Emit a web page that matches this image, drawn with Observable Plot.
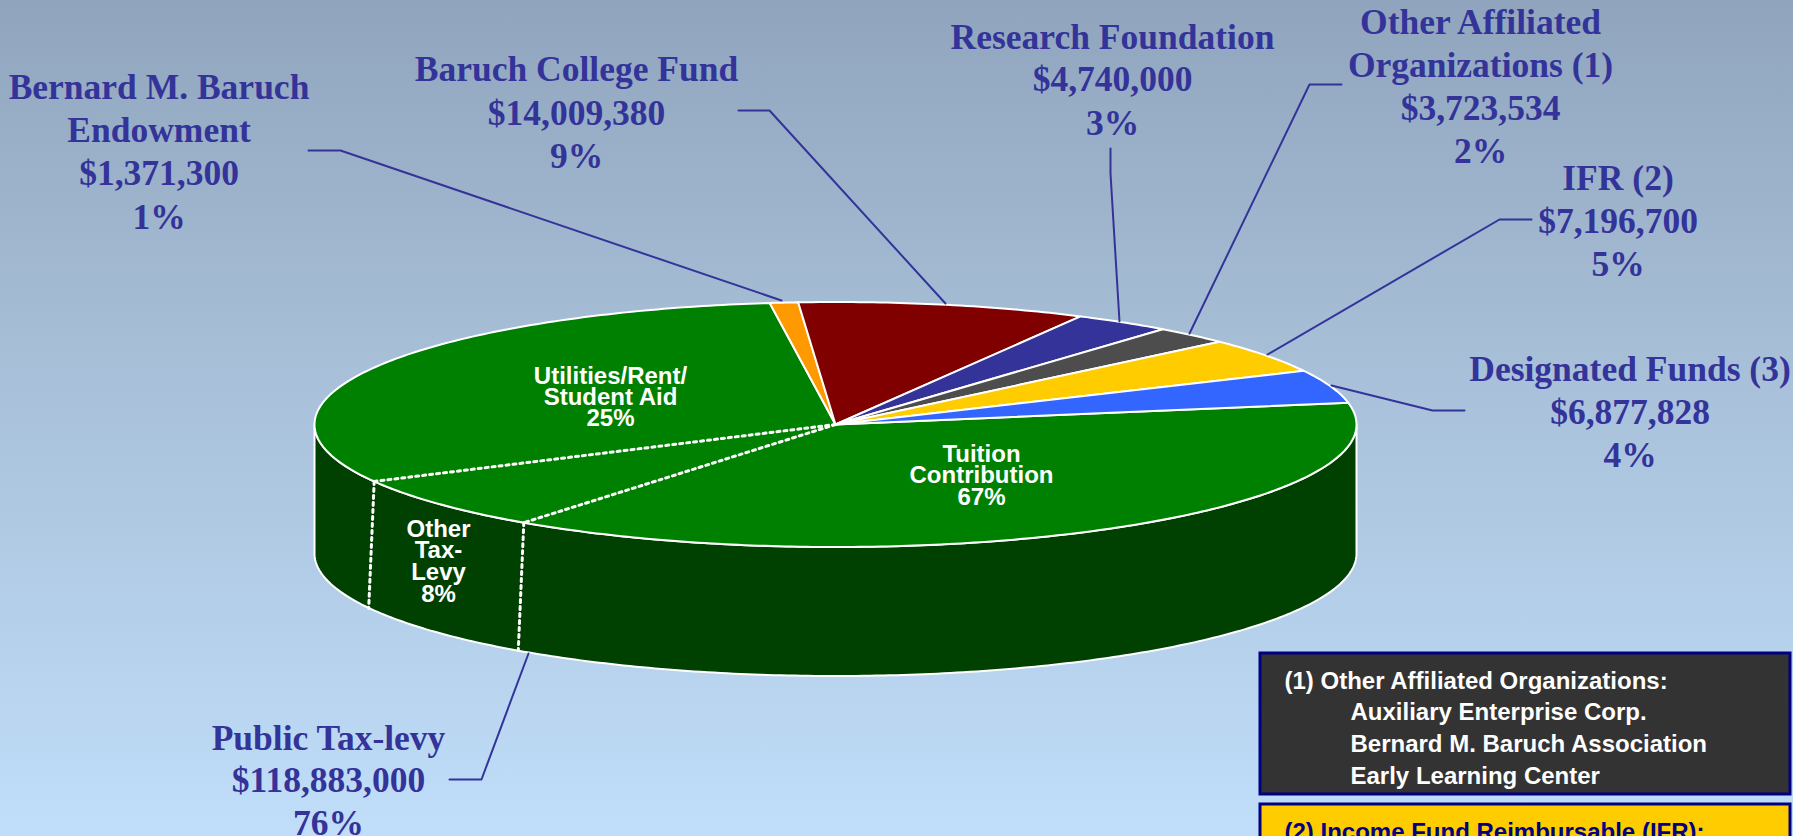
<!DOCTYPE html>
<html>
<head>
<meta charset="utf-8">
<style>html,body{margin:0;padding:0;overflow:hidden;background:#bedcf8}svg{display:block}</style>
<script src="https://cdn.jsdelivr.net/npm/d3@7"></script>
<script src="https://cdn.jsdelivr.net/npm/@observablehq/plot@0.6"></script>
</head>
<body>
<div id="chart"></div>
<script>
// Data, clockwise from the right edge of the pie
const names = [
  ["Public Tax-levy"],
  ["Bernard M. Baruch", "Endowment"],
  ["Baruch College Fund"],
  ["Research Foundation"],
  ["Other Affiliated", "Organizations (1)"],
  ["IFR (2)"],
  ["Designated Funds (3)"]
];
const amounts = [118883000, 1371300, 14009380, 4740000, 3723534, 7196700, 6877828];
const sliceColors = ["#008000", "#FF9900", "#800000", "#333399", "#4D4D4D", "#FFCC00", "#3366FF"];

// The dotted divisions of the tax-levy slice, as shares of the whole drawn pie
const dividerShares = [0.3804, 0.071];
const taxLevyLabels = [
  {lines: ["Tuition", "Contribution", "67%"], x: 981, ys: [454, 475, 497]},
  {lines: ["Other", "Tax-", "Levy", "8%"], x: 438, ys: [529, 550, 572, 594]},
  {lines: ["Utilities/Rent/", "Student Aid", "25%"], x: 610, ys: [376, 397, 418]}
];

// Layout of the callouts, in the order of the data
const labelX = [328, 158.5, 576, 1112, 1480, 1617.5, 1629.5];
const labelY = [
  [738, 780, 823],
  [87, 130.5, 173.5, 217],
  [69, 113, 156],
  [37, 79, 123],
  [22, 65, 108, 151],
  [178, 221, 264],
  [369, 412, 455]
];
const leaders = [
  [[449, 779], [481, 779], [528, 653]],
  [[308, 150], [340, 150], [781, 300]],
  [[738, 110], [769, 110], [945, 303]],
  [[1110, 148], [1110, 173], [1119, 321]],
  [[1341, 84], [1309, 84], [1189, 333]],
  [[1531, 219], [1499, 219], [1267, 354]],
  [[1464, 410], [1432, 410], [1331, 385]]
];

const noteBoxes = [
  {x1: 1260, x2: 1790, y1: 653, y2: 794, fill: "#333333"},
  {x1: 1260, x2: 1790, y1: 804, y2: 860, fill: "#FFCC00"}
];
const noteLines = [
  {text: "(1) Other Affiliated Organizations:", x: 1284, y: 681, fill: "white"},
  {text: "Auxiliary Enterprise Corp.", x: 1350, y: 712, fill: "white"},
  {text: "Bernard M. Baruch Association", x: 1350, y: 744, fill: "white"},
  {text: "Early Learning Center", x: 1350, y: 776, fill: "white"},
  {text: "(2) Income Fund Reimbursable (IFR):", x: 1284, y: 832, fill: "#000080"}
];

// Pie projection
const cx = 835, cy = 424, rx = 521, ry = 122.5, depth = 129;
const deg = Math.PI / 180;
const startAngle = 79.8 * deg;
const rim = (a, drop = 0) => ({x: cx + rx * Math.sin(a), y: cy - ry * Math.cos(a) + drop});
const arcPoints = (a0, a1, drop = 0) => {
  const n = Math.max(2, Math.ceil(Math.abs(a1 - a0) / (0.75 * deg)));
  return d3.range(n + 1).map(i => rim(a0 + (a1 - a0) * i / n, drop));
};

const arcs = d3.pie().sort(null).startAngle(startAngle).endAngle(startAngle + 2 * Math.PI)(amounts);
const total = d3.sum(amounts);
const money = d3.format("$,");
const centre = {x: cx, y: cy};

const slicePolys = arcs.map(a => [centre, ...arcPoints(a.startAngle, a.endAngle), centre]);
// Visible side wall: the front half of the rim
const front = arcPoints(90 * deg, 270 * deg);
const frontLow = arcPoints(270 * deg, 90 * deg, depth);
const wall = [...front, ...frontLow, front[0]];

let acc = 0;
const dividers = dividerShares.map(s => {
  acc += s;
  const top = rim(startAngle + acc * 2 * Math.PI);
  return {top, low: {x: top.x - 5.5, y: top.y + depth - 2}};
});

const calloutText = names.flatMap((nm, i) => {
  const lines = [...nm, money(amounts[i]), `${Math.round(amounts[i] / total * 100)}%`];
  return lines.map((text, j) => ({text, x: labelX[i], y: labelY[i][j]}));
});
const innerText = taxLevyLabels.flatMap(l => l.lines.map((text, j) => ({text, x: l.x, y: l.ys[j]})));

const pts = {x: "x", y: "y"};
const dots = {stroke: "white", strokeWidth: 3, strokeDasharray: "3 4"};
const chart = Plot.plot({
  width: 1793,
  height: 836,
  margin: 0,
  x: {domain: [0, 1793], range: [0, 1793], axis: null},
  y: {domain: [0, 836], range: [0, 836], axis: null},
  style: {
    background: "linear-gradient(to bottom, #90A5BD 0%, #A6BDD6 40%, #C0DEFA 100%)",
    overflow: "hidden"
  },
  marks: [
    Plot.line(wall, {...pts, fill: "#004000", stroke: "white", strokeWidth: 2}),
    ...slicePolys.map((p, i) => Plot.line(p, {...pts, fill: sliceColors[i], stroke: "white", strokeWidth: 2, strokeLinejoin: "round"})),
    ...dividers.map(d => Plot.line([centre, d.top], {...pts, ...dots})),
    ...dividers.map(d => Plot.line([d.top, d.low], {...pts, ...dots})),
    ...leaders.map(l => Plot.line(l.map(([x, y]) => ({x, y})), {...pts, stroke: "#333399", strokeWidth: 2})),
    Plot.text(calloutText, {...pts, text: "text", fill: "#333399", fontFamily: "Liberation Serif", fontWeight: "bold", fontSize: 35.5, textAnchor: "middle", lineAnchor: "middle"}),
    Plot.text(innerText, {...pts, text: "text", fill: "white", fontFamily: "Liberation Sans", fontWeight: "bold", fontSize: 24, textAnchor: "middle", lineAnchor: "middle"}),
    Plot.rect(noteBoxes, {x1: "x1", x2: "x2", y1: "y1", y2: "y2", fill: "fill", stroke: "#000080", strokeWidth: 3}),
    Plot.text(noteLines, {...pts, text: "text", fill: "fill", fontFamily: "Liberation Sans", fontWeight: "bold", fontSize: 24, textAnchor: "start", lineAnchor: "middle"})
  ]
});
document.getElementById("chart").append(chart);
</script>
</body>
</html>
